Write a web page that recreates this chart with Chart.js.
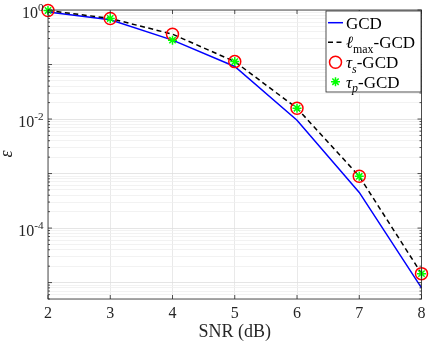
<!DOCTYPE html>
<html>
<head>
<meta charset="utf-8">
<script src="https://cdn.jsdelivr.net/npm/chart.js@4.4.0/dist/chart.umd.min.js"></script>
<style>
  html, body { margin: 0; padding: 0; background: #fff; }
  #wrap { width: 429px; height: 342px; }
</style>
</head>
<body>
<div id="wrap"><canvas id="c"></canvas></div>
<script>
// données
const snr = [2, 3, 4, 5, 6, 7, 8];
const gcd = [0.92, 0.66, 0.28, 0.092, 0.0095, 4.5e-4, 8e-6];
const lmaxGcd = [0.98, 0.70, 0.36, 0.113, 0.0158, 8.9e-4, 1.46e-5];
const tauSGcd = [0.98, 0.70, 0.36, 0.113, 0.0158, 8.9e-4, 1.46e-5];
const tauPGcd = [0.98, 0.70, 0.28, 0.113, 0.0158, 8.9e-4, 1.46e-5];
const yLabelExps = [0, -2, -4];
const yMin = 5e-6, yMax = 1;

const serif = '"Liberation Serif", "DejaVu Serif", serif';
const axisCol = '#262626';

function pts(ys) {
    return snr.map((x, i) => ({ x: x, y: ys[i] }));
}

function isDecade(v) {
    let l = Math.log10(v);
    return Math.abs(l - Math.round(l)) < 1e-6;
}

// texte avec indices / exposants
function drawRich(ctx, x, y, parts, size) {
    let cx = x;
    parts.forEach(p => {
        let fs = (p.sub || p.sup) ? size * 0.7 : size;
        ctx.font = (p.italic ? 'italic ' : '') + fs + 'px ' + serif;
        let dy = p.sub ? size * 0.28 : (p.sup ? -size * 0.42 : 0);
        ctx.fillText(p.t, cx, y + dy);
        cx += ctx.measureText(p.t).width;
    });
    return cx;
}

function richWidth(ctx, parts, size) {
    let w = 0;
    parts.forEach(p => {
        let fs = (p.sub || p.sup) ? size * 0.7 : size;
        ctx.font = (p.italic ? 'italic ' : '') + fs + 'px ' + serif;
        w += ctx.measureText(p.t).width;
    });
    return w;
}

const decor = {
    id: 'decor',
    afterDraw(chart) {
        let ctx = chart.ctx;
        let a = chart.chartArea;
        let xs = chart.scales.x, ys = chart.scales.y;
        ctx.save();

        // cadre + graduations vers l'intérieur
        ctx.strokeStyle = axisCol;
        ctx.lineWidth = 0.8;
        ctx.strokeRect(a.left, a.top, a.right - a.left, a.bottom - a.top);
        ctx.beginPath();
        snr.forEach(v => {
            let px = xs.getPixelForValue(v);
            ctx.moveTo(px, a.bottom); ctx.lineTo(px, a.bottom - 4);
            ctx.moveTo(px, a.top); ctx.lineTo(px, a.top + 4);
        });
        ys.ticks.forEach(t => {
            let py = ys.getPixelForValue(t.value);
            let len = isDecade(t.value) ? 4 : 2;
            ctx.moveTo(a.left, py); ctx.lineTo(a.left + len, py);
            ctx.moveTo(a.right, py); ctx.lineTo(a.right - len, py);
        });
        ctx.stroke();

        // étiquettes de l'axe y : 10^k
        ctx.fillStyle = axisCol;
        ctx.textBaseline = 'alphabetic';
        yLabelExps.forEach(e => {
            let py = ys.getPixelForValue(Math.pow(10, e));
            let parts = [{ t: '10' }, { t: String(e), sup: true }];
            let w = richWidth(ctx, parts, 16);
            drawRich(ctx, 43.5 - w, py + 7.5, parts, 16);
        });

        // titres des axes
        ctx.font = '18px ' + serif;
        ctx.textAlign = 'center';
        ctx.fillText('SNR (dB)', (a.left + a.right) / 2, 337);
        ctx.save();
        ctx.translate(12, 154);
        ctx.rotate(-Math.PI / 2);
        ctx.font = 'italic 18px ' + serif;
        ctx.fillText('\u03B5', 0, 0);
        ctx.restore();
        ctx.textAlign = 'left';

        // légende
        let lx = 326, ly = 11, lw = 95, lh = 81;
        ctx.fillStyle = '#fff';
        ctx.fillRect(lx, ly, lw, lh);
        ctx.strokeStyle = axisCol;
        ctx.lineWidth = 0.8;
        ctx.strokeRect(lx, ly, lw, lh);

        let rows = [22.7, 42.3, 62.3, 81.7];
        let mx = 335.5, tx = 346;
        // GCD
        ctx.strokeStyle = '#0000ff';
        ctx.lineWidth = 1.5;
        ctx.setLineDash([]);
        ctx.beginPath(); ctx.moveTo(328, rows[0]); ctx.lineTo(343, rows[0]); ctx.stroke();
        // lmax
        ctx.strokeStyle = '#000';
        ctx.setLineDash([5, 3.5]);
        ctx.beginPath(); ctx.moveTo(328, rows[1]); ctx.lineTo(343, rows[1]); ctx.stroke();
        ctx.setLineDash([]);
        // cercle rouge
        ctx.strokeStyle = '#ff0000';
        ctx.beginPath(); ctx.arc(mx, rows[2], 6, 0, Math.PI * 2); ctx.stroke();
        // étoile verte
        ctx.strokeStyle = '#00ff00';
        ctx.beginPath();
        for (let k = 0; k < 4; k++) {
            let ang = k * Math.PI / 4;
            let r = 4.5;
            ctx.moveTo(mx - r * Math.cos(ang), rows[3] - r * Math.sin(ang));
            ctx.lineTo(mx + r * Math.cos(ang), rows[3] + r * Math.sin(ang));
        }
        ctx.stroke();

        ctx.fillStyle = '#000';
        let fs = 17, off = 5.8;
        drawRich(ctx, tx, rows[0] + off, [{ t: 'GCD' }], fs);
        drawRich(ctx, tx, rows[1] + off, [{ t: '\u2113', italic: true }, { t: 'max', sub: true }, { t: '-GCD' }], fs);
        drawRich(ctx, tx, rows[2] + off, [{ t: '\u03C4', italic: true }, { t: 's', sub: true, italic: true }, { t: '-GCD' }], fs);
        drawRich(ctx, tx, rows[3] + off, [{ t: '\u03C4', italic: true }, { t: 'p', sub: true, italic: true }, { t: '-GCD' }], fs);

        ctx.restore();
    }
};

new Chart(document.getElementById('c'), {
    type: 'line',
    data: {
        datasets: [
            {
                label: 'GCD',
                data: pts(gcd),
                borderColor: '#0000ff',
                borderWidth: 1.5,
                pointRadius: 0,
                fill: false,
                tension: 0,
                clip: false,
                order: 4
            },
            {
                label: 'lmax-GCD',
                data: pts(lmaxGcd),
                borderColor: '#000000',
                borderWidth: 1.5,
                borderDash: [5, 3.5],
                pointRadius: 0,
                fill: false,
                tension: 0,
                clip: false,
                order: 3
            },
            {
                label: 'tau_s-GCD',
                data: pts(tauSGcd),
                showLine: false,
                pointStyle: 'circle',
                pointRadius: 6,
                pointBorderWidth: 1.5,
                pointBorderColor: '#ff0000',
                pointBackgroundColor: 'rgba(0,0,0,0)',
                clip: false,
                order: 2
            },
            {
                label: 'tau_p-GCD',
                data: pts(tauPGcd),
                showLine: false,
                pointStyle: 'star',
                pointRadius: 4.5,
                pointBorderWidth: 1.5,
                pointBorderColor: '#00ff00',
                pointBackgroundColor: '#00ff00',
                clip: false,
                order: 1
            }
        ]
    },
    options: {
        responsive: true,
        maintainAspectRatio: false,
        animation: false,
        layout: { padding: { top: 10, right: 3, left: 0, bottom: 0 } },
        plugins: {
            legend: { display: false },
            tooltip: { enabled: false }
        },
        scales: {
            x: {
                type: 'linear',
                min: 2,
                max: 8,
                ticks: {
                    stepSize: 1,
                    color: axisCol,
                    font: { family: serif, size: 16 },
                    padding: 5,
                    maxRotation: 0
                },
                grid: { color: '#e3e3e3', lineWidth: 0.8, drawTicks: false },
                border: { display: false },
                afterFit: s => {
                    s.height = 43;
                    s.paddingLeft = 0;
                    s.paddingRight = 0;
                }
            },
            y: {
                type: 'logarithmic',
                min: yMin,
                max: yMax,
                afterBuildTicks: s => {
                    let t = [];
                    for (let e = -6; e <= 0; e++) {
                        for (let m = 1; m <= 9; m++) {
                            let v = m * Math.pow(10, e);
                            if (v >= yMin * 0.999 && v <= yMax * 1.001) t.push({ value: v });
                        }
                    }
                    s.ticks = t;
                },
                ticks: { display: false, autoSkip: false },
                grid: {
                    drawTicks: false,
                    lineWidth: 0.8,
                    color: c => (c.tick && isDecade(c.tick.value)) ? '#dedede' : '#efefef'
                },
                border: { display: false },
                afterFit: s => { s.width = 48; }
            }
        }
    },
    plugins: [decor]
});
</script>
</body>
</html>
